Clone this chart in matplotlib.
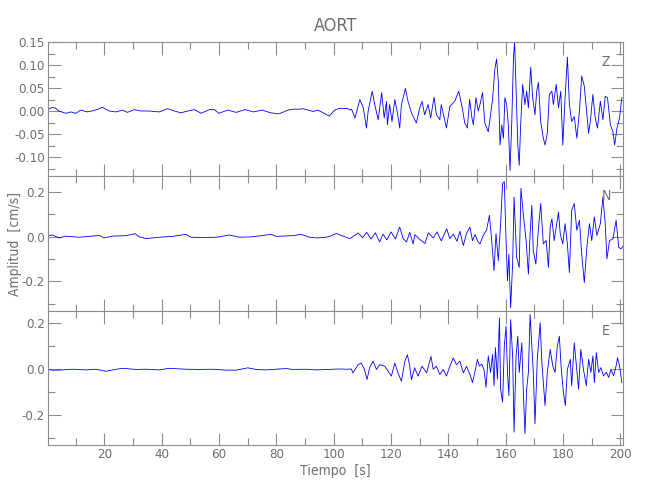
"""
Sismograma AORT - componentes Z, N, E (velocidad)
"""
import numpy as np
import matplotlib
matplotlib.use("Agg")
import matplotlib.pyplot as plt
from matplotlib.ticker import MultipleLocator, FormatStrFormatter
from matplotlib import font_manager

# Componente Z (tiempo [s], amplitud [cm/s])
t_z = [0, 1.8, 3, 4.1, 6.5, 8.3, 10, 11.7, 14.1, 16.9, 19.3, 21.6, 24, 26.3, 28, 30.4, 32.7,
       35.6, 39.1, 42, 44.4, 46.7, 49, 51.4, 53.7, 56.6, 58.4, 59.9, 63, 66, 69, 72, 75, 78,
       81, 84, 86, 88.1, 89.3, 92.8, 94.5, 98.4, 100.3, 102.1, 105, 105.6,
       106.2, 107.4, 109.1, 110.3, 111.4, 112.0, 113.4, 114.3, 115.5, 116.7, 117.6, 118.4,
       118.7, 119.5, 120.3, 121.3, 122.2, 123.0, 123.6, 125.0, 125.9, 127.1, 128.8, 130.0,
       130.8, 131.7, 132.9, 133.8, 135.0, 135.8, 137.0, 137.5, 139.3, 140.5, 142.2, 143.6,
       144.6, 145.7, 146.6, 147.4, 148.2, 148.7, 149.6, 150.4, 151.0, 151.9, 152.7, 153.9,
       154.7, 155.4, 156.2, 156.8, 157.4, 158.0, 158.6, 159.2, 159.7, 160.3, 160.9, 161.5,
       162.1, 162.7, 163.1, 163.6, 164.2, 164.7, 165.2, 165.9, 166.7, 167.3, 167.9, 168.7,
       169.4, 170.2, 170.8, 171.4, 172.2, 173.1, 173.7, 174.5, 175.2, 176.1, 176.6, 177.6,
       178.4, 179.2, 179.9, 180.7, 181.5, 182.2, 183.0, 183.9, 184.8, 185.7, 186.5, 187.4,
       188.1, 188.9, 189.5, 190.4, 191.2, 192.0, 193.0, 193.9, 194.7, 195.5, 196.5, 197.4,
       198.0, 198.8, 199.7, 200.5]
a_z = [0.002, 0.008, 0.006, 0.0, -0.005, -0.002, -0.005, 0.002, -0.002, 0.002, 0.008, 0.0,
       -0.002, 0.002, -0.003, 0.003, 0.0, 0.0, -0.002, 0.005, 0.0, -0.004, 0.0, 0.003,
       -0.005, 0.003, 0.003, -0.005, 0.002, -0.003, 0.003, -0.002, 0.002, -0.004, -0.006,
       0.002, 0.004, 0.004, 0.005, -0.001, 0.002, -0.011, 0.002, 0.006, 0.005, 0.002,
       0.004, -0.015, 0.025, 0.007, -0.037, 0.0, 0.043, 0.014, -0.019, 0.040, -0.015, 0.021,
       -0.030, 0.014, -0.023, 0.025, -0.004, -0.037, 0.014, 0.049, 0.021, -0.004, -0.026, 0.007,
       0.021, -0.008, 0.014, -0.015, 0.030, -0.008, -0.019, 0.014, -0.037, 0.010, 0.021, 0.043,
       0.014, -0.026, -0.037, 0.025, -0.015, -0.030, 0.029, 0.0, 0.014, 0.040, -0.026, -0.045,
       -0.008, 0.025, 0.091, 0.113, 0.065, -0.074, -0.030, -0.059, 0.029, 0.014, -0.030, -0.129,
       -0.023, 0.117, 0.150, 0.051, -0.074, -0.118, -0.030, 0.058, 0.014, 0.043, 0.007, 0.095,
       0.029, -0.008, 0.043, 0.062, -0.023, -0.059, -0.074, -0.048, 0.036, 0.043, 0.014, 0.058,
       0.007, 0.043, -0.074, 0.029, 0.117, 0.014, -0.023, -0.012, -0.059, 0.0, 0.076, 0.054,
       0.007, -0.048, -0.023, 0.036, -0.015, -0.037, 0.021, -0.019, 0.032, 0.029, -0.030, -0.045,
       -0.074, -0.037, -0.015, 0.029]

# Componente N
t_n = [0, 1.8, 4.2, 6.5, 11.2, 18.2, 19.9, 22.8, 27.5, 30.7, 32.1, 34.5, 39.1, 43.8, 48.4,
       50.2, 54.3, 59, 63.6, 67.1, 71.7, 78.2, 79.9, 85.7, 88.6, 91.6, 93.9, 96.8, 98.6,
       100.9, 103, 105.6, 107.3, 108.5, 110, 111.5, 113, 114.5, 116, 117.2, 118.5, 120, 121.5,
       123, 124.2, 125.4, 126.5, 127.7, 128.3, 130, 131.8, 133, 134.7, 136, 137.5, 139.4,
       140.5, 141.7, 143, 144, 145.2, 146.3, 147.5, 148.4, 149.3, 150.2, 151.0, 152.2, 153.3,
       154.3, 155.1, 155.9, 156.6, 157.4, 158.2, 158.9, 159.5, 160.1, 160.6, 161.1, 161.7,
       162.4, 162.9, 163.8, 164.7, 165.3, 166.1, 167.1, 167.9, 168.5, 169.1, 169.6, 170.5,
       171.4, 172.2, 173.1, 174.1, 174.9, 175.5, 176.1, 176.9, 177.6, 178.4, 179.0, 179.9,
       180.7, 181.5, 182.2, 183.0, 183.9, 184.8, 185.7, 186.5, 187.4, 188.3, 189.2, 190.0,
       190.9, 191.8, 193.0, 193.9, 194.7, 195.3, 196.2, 197.4, 198.5, 199.4, 200.2, 201.1]
a_n = [0.003, 0.008, -0.005, 0.003, -0.002, 0.006, -0.005, 0.003, 0.005, 0.014, 0.0, -0.008,
       -0.002, 0.002, 0.011, -0.002, -0.003, -0.002, 0.008, -0.002, 0.0, 0.011, 0.002, 0.005,
       0.011, -0.002, -0.005, -0.003, 0.002, 0.015, 0.004, -0.008, 0.006, 0.017, -0.004, 0.020,
       -0.010, 0.018, -0.023, 0.012, -0.014, 0.022, -0.010, 0.044, -0.008, -0.023, 0.020,
       -0.032, 0.010, -0.012, -0.030, 0.018, -0.005, 0.022, -0.018, 0.036, -0.008, 0.012,
       -0.020, 0.025, -0.039, 0.015, 0.044, -0.017, 0.010, -0.020, -0.032, 0.008, 0.029,
       0.096, -0.017, -0.152, 0.014, -0.107, 0.059, 0.239, 0.247, -0.017, -0.197, -0.077,
       -0.318, -0.122, 0.179, -0.092, -0.137, 0.217, 0.104, -0.017, -0.167, 0.014, 0.141,
       -0.062, -0.122, 0.036, 0.149, -0.032, -0.017, -0.137, 0.044, 0.081, -0.017, 0.044,
       0.111, 0.014, -0.032, 0.059, -0.032, -0.160, 0.119, 0.149, 0.029, 0.074, -0.077,
       -0.205, -0.047, 0.059, -0.017, 0.089, 0.006, 0.059, 0.179, 0.059, -0.099, -0.017,
       -0.009, 0.074, -0.047, -0.054, -0.039]

# Componente E
t_e = [0, 1.8, 4.2, 8.8, 13.5, 17, 20.5, 22.8, 26.3, 31, 34.5, 39.1, 42.6, 48.4, 53.1, 57.8,
       62.4, 66, 70, 72.9, 76.4, 79.9, 83.4, 85.7, 90.4, 93.9, 98, 102, 104.5, 106.1,
       106.7, 108.5, 109.6, 110.7, 111.6, 112.5, 113.7, 114.9, 116, 117.8, 119, 120.1, 121.3,
       122.4, 123.6, 124.8, 125.7, 126.5, 127.1, 128.2, 129.4, 130.8, 132.4, 133.9, 134.7,
       135.8, 137, 138.2, 139.3, 140.5, 141.7, 142.8, 144, 145.2, 146.3, 147.0, 147.5, 148.4,
       149.2, 150.1, 150.8, 151.6, 152.4, 153.1, 153.9, 154.7, 155.4, 155.9, 156.4, 157.1,
       157.8, 158.2, 158.9, 159.5, 160.1, 160.6, 161.1, 161.7, 162.4, 162.9, 163.6, 164.2,
       164.7, 165.6, 166.1, 166.7, 167.3, 167.9, 168.5, 169.1, 169.6, 170.2, 171.0, 172.0,
       172.6, 173.1, 173.7, 174.5, 175.5, 176.4, 177.2, 178.0, 178.7, 179.3, 180.1, 180.8,
       181.5, 182.5, 183.0, 183.9, 184.6, 185.4, 186.2, 187.1, 188.1, 188.9, 189.7, 190.4,
       190.9, 191.6, 192.4, 193.2, 194.1, 195.1, 195.9, 196.7, 197.6, 198.5, 199.0, 199.7,
       200.5]
a_e = [0.0, -0.004, -0.004, 0.0, -0.003, 0.0, -0.009, -0.003, 0.004, -0.001, 0.0, -0.003,
       0.004, 0.0, -0.001, 0.0, -0.004, -0.004, 0.006, -0.001, -0.003, 0.0, 0.003, -0.001,
       0.0, -0.003, -0.001, 0.001, 0.0, 0.001,
       -0.016, 0.020, 0.027, -0.001, -0.045, 0.006, 0.035, -0.001, 0.020, 0.013, -0.009,
       -0.030, 0.027, -0.016, -0.052, 0.035, 0.063, 0.013, -0.045, 0.006, -0.030, 0.013,
       -0.016, 0.056, 0.0, 0.013, -0.023, -0.001, -0.030, 0.013, 0.049, 0.020, 0.035, -0.016,
       0.013, -0.009, -0.022, -0.058, -0.014, 0.043, 0.014, 0.022, 0.0, -0.079, 0.058, -0.014,
       0.065, -0.072, 0.094, -0.043, 0.223, -0.086, -0.144, 0.101, 0.187, -0.014, -0.115,
       0.216, 0.058, -0.274, 0.058, 0.144, -0.014, 0.115, -0.086, -0.281, -0.086, -0.014,
       0.238, 0.101, -0.014, -0.238, 0.043, 0.202, 0.029, -0.058, -0.158, -0.014, 0.086,
       0.014, -0.014, 0.101, 0.144, 0.014, -0.101, -0.158, 0.0, 0.043, -0.072, 0.115, 0.022,
       -0.086, 0.086, 0.0, -0.072, 0.043, -0.014, 0.058, -0.058, 0.072, -0.014, 0.007, -0.029,
       -0.014, -0.036, 0.0, -0.029, 0.014, 0.050, 0.014, -0.058]

trazas = [(t_z, a_z, "Z"), (t_n, a_n, "N"), (t_e, a_e, "E")]
ylims = [(-0.142, 0.15), (-0.331, 0.271), (-0.33, 0.255)]
paso_y = [(0.05, 0.025, "%.2f"), (0.2, 0.1, "%.1f"), (0.2, 0.1, "%.1f")]

gris = "#8c8c8c"
gris_txt = "#6e6e6e"

# fuente estrecha si existe alguna
nombres = {f.name for f in font_manager.fontManager.ttflist}
familias = [n for n in ["Liberation Sans Narrow", "DejaVu Sans"] if n in nombres]
plt.rcParams["font.family"] = familias
plt.rcParams["font.stretch"] = "condensed"

fig = plt.figure(figsize=(6.5, 5), dpi=100)
izq, der, arriba, abajo = 0.0734, 0.958, 0.916, 0.11
alto = (arriba - abajo) / 3

for i, (t, a, nombre) in enumerate(trazas):
    ax = fig.add_axes([izq, arriba - (i + 1) * alto, der - izq, alto])
    ax.plot(t, a, color="#0000ff", lw=0.6)
    ax.set_xlim(0.2, 200.8)
    ax.set_ylim(*ylims[i])
    ax.xaxis.set_major_locator(MultipleLocator(20))
    ax.xaxis.set_minor_locator(MultipleLocator(10))
    ax.yaxis.set_major_locator(MultipleLocator(paso_y[i][0]))
    ax.yaxis.set_minor_locator(MultipleLocator(paso_y[i][1]))
    ax.yaxis.set_major_formatter(FormatStrFormatter(paso_y[i][2]))
    ax.tick_params(which="both", direction="in", top=True, right=True, color=gris,
                   labelcolor=gris_txt, labelsize=9.5, pad=2)
    ax.tick_params(which="major", length=9, width=0.8)
    ax.tick_params(which="minor", length=5, width=0.8)
    for s in ax.spines.values():
        s.set_color(gris)
        s.set_linewidth(0.8)
    if i < 2:
        ax.tick_params(labelbottom=False)
    ax.text(0.971, 0.85, nombre, transform=ax.transAxes, color=gris_txt,
            fontsize=10, ha="center", va="center")
    if i == 0:
        ax.set_title("AORT", color=gris_txt, fontsize=13, pad=8)
    if i == 1:
        ax.set_ylabel("Amplitud  [cm/s]", color=gris_txt, fontsize=10, labelpad=0)
    if i == 2:
        ax.set_xlabel("Tiempo  [s]", color=gris_txt, fontsize=10, labelpad=2)

fig.savefig("out.png", dpi=100)
